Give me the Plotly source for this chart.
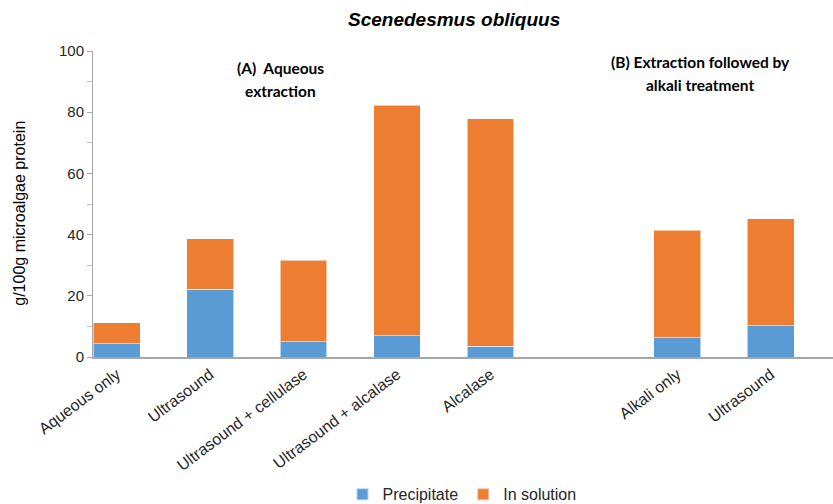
import plotly.graph_objects as go

# Treatments (empty slot separates the two extraction groups)
categories = ["Aqueous only", "Ultrasound", "Ultrasound + cellulase",
              "Ultrasound + alcalase", "Alcalase", "", "Alkali only", "Ultrasound"]
precipitate = [4.4, 22.2, 5.0, 7.0, 3.5, None, 6.3, 10.2]
in_solution = [6.8, 16.4, 26.6, 75.3, 74.4, None, 35.2, 35.0]
y_ticks = [0, 20, 40, 60, 80, 100]

positions = list(range(len(categories)))

blue = "#5b9bd5"
orange = "#ed7d31"
edge = dict(color="rgba(255,255,255,0.55)", width=1)

fig = go.Figure()
fig.add_trace(go.Bar(x=positions, y=precipitate, name="Precipitate",
                     marker=dict(color=blue, line=edge), width=0.5))
fig.add_trace(go.Bar(x=positions, y=in_solution, name="In solution",
                     marker=dict(color=orange, line=edge), width=0.5))

base_font = "Liberation Sans, Arial, sans-serif"
label_font = "Lato, Open Sans, sans-serif"

# plot area: x 93..833 px, y 51..357.5 px
def px_x(px):
    return (px - 93.0) / 740.0

def px_y(py):
    return (357.5 - py) / 306.5

def note(text, x, y, size, family, angle=0):
    return dict(text=text, xref="paper", yref="paper", x=px_x(x), y=px_y(y),
                showarrow=False, xanchor="center", yanchor="middle", textangle=angle,
                font=dict(size=size, color="#000000", family=family))

fig.update_layout(
    width=833, height=504,
    barmode="stack",
    plot_bgcolor="white", paper_bgcolor="white",
    margin=dict(l=93, r=0, t=51, b=146.5, autoexpand=False),
    font=dict(family=base_font, size=15, color="#262626"),
    showlegend=True,
    legend=dict(orientation="h", x=px_x(462), xanchor="center", y=px_y(495), yanchor="middle",
                font=dict(size=16, color="#262626"), itemwidth=30,
                traceorder="normal", itemsizing="constant"),
    xaxis=dict(
        tickmode="array", tickvals=positions, ticktext=categories,
        tickangle=-37, range=[-0.254, 7.666], automargin=False,
        showline=True, linecolor="#a6a6a6", linewidth=2,
        showgrid=False, zeroline=False, ticks="",
        tickfont=dict(size=16, color="#262626"),
    ),
    yaxis=dict(
        range=[0, 100], tickvals=y_ticks, automargin=False,
        showline=True, linecolor="#a6a6a6", linewidth=1,
        showgrid=False, zeroline=False,
        ticks="outside", ticklen=5, tickcolor="#a6a6a6",
        minor=dict(ticks="outside", ticklen=5, dtick=10, tickcolor="#bfbfbf"),
        tickfont=dict(size=15, color="#262626"),
    ),
    annotations=[
        note("<b><i>Scenedesmus obliquus</i></b>", 454, 19, 19, base_font),
        note("g/100g microalgae protein", 20, 214, 16, base_font, angle=-90),
        note("<b>(A)\u00a0\u00a0Aqueous</b>", 280, 68, 15.5, label_font),
        note("<b>extraction</b>", 280, 91, 15.5, label_font),
        note("<b>(B) Extraction followed by</b>", 700, 62, 15.5, label_font),
        note("<b>alkali treatment</b>", 700, 85, 15.5, label_font),
    ],
)

fig.write_html("out.html")
